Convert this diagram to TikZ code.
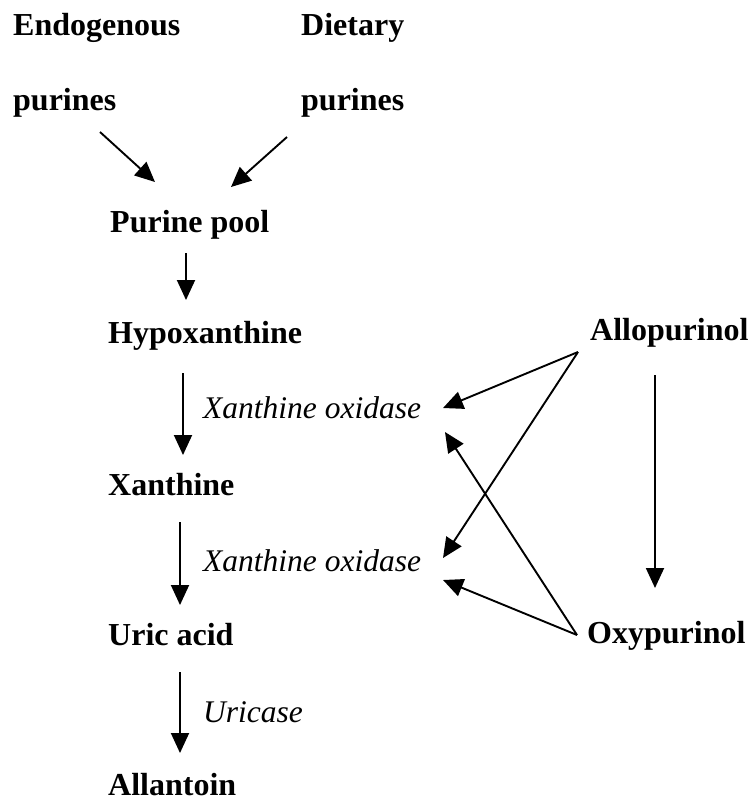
\documentclass[tikz,border=0pt]{standalone}
\usepackage{fontspec}
\setmainfont{Liberation Serif}
\usetikzlibrary{arrows.meta}
\tikzset{
  flow/.style={line width=1.9pt, -{Triangle[length=20pt,width=18pt]}},
  met/.style={anchor=base west, inner sep=0pt, font=\fontsize{32}{38}\selectfont\bfseries},
  enz/.style={anchor=base west, inner sep=0pt, font=\fontsize{31.5}{38}\selectfont\itshape}
}
\begin{document}
\begin{tikzpicture}[x=1pt, y=-1pt]
	\useasboundingbox (0,0) rectangle (753,801);
	% sources
	\node[met] (endo) at (13,35) {Endogenous};
	\node[met] (endop) at (13,110) {purines};
	\node[met] (diet) at (301,35) {Dietary};
	\node[met] (dietp) at (301,110) {purines};
	% main pathway
	\node[met] (pool) at (110,232) {Purine pool};
	\node[met] (hypo) at (108,343) {Hypoxanthine};
	\node[met] (xan) at (108,495) {Xanthine};
	\node[met] (uric) at (108,645) {Uric acid};
	\node[met] (allan) at (108,795) {Allantoin};
	\node[enz] (xo1) at (203,418) {Xanthine oxidase};
	\node[enz] (xo2) at (203,571) {Xanthine oxidase};
	\node[enz] (urc) at (203,722) {Uricase};
	% inhibitors
	\node[met] (allo) at (590,340) {Allopurinol};
	\node[met] (oxy) at (587,643) {Oxypurinol};

	\draw[flow] ([xshift=87pt,yshift=-22pt]endop.base west) -- ([xshift=45pt,yshift=50pt]pool.base west);
	\draw[flow] ([xshift=-14pt,yshift=-27pt]dietp.base west) -- ([xshift=121pt,yshift=45pt]pool.base west);
	\draw[flow] ([xshift=76pt,yshift=-21pt]pool.base west) -- ([xshift=78pt,yshift=43pt]hypo.base west);
	\draw[flow] ([xshift=75pt,yshift=-30pt]hypo.base west) -- ([xshift=75pt,yshift=40pt]xan.base west);
	\draw[flow] ([xshift=72pt,yshift=-27pt]xan.base west) -- ([xshift=72pt,yshift=40pt]uric.base west);
	\draw[flow] ([xshift=72pt,yshift=-27pt]uric.base west) -- ([xshift=72pt,yshift=42pt]allan.base west);

	\draw[flow] ([xshift=65pt,yshift=-35pt]allo.base west) -- ([xshift=68pt,yshift=55pt]oxy.base west);
	\draw[flow] ([xshift=-12pt,yshift=-12pt]allo.base west) -- ([xshift=240pt,yshift=10pt]xo1.base west);
	\draw[flow] ([xshift=-12pt,yshift=-12pt]allo.base west) -- ([xshift=240pt,yshift=13pt]xo2.base west);
	\draw[flow] ([xshift=-10pt,yshift=8pt]oxy.base west) -- ([xshift=242pt,yshift=-14pt]xo1.base west);
	\draw[flow] ([xshift=-10pt,yshift=8pt]oxy.base west) -- ([xshift=240pt,yshift=-9pt]xo2.base west);
\end{tikzpicture}
\end{document}
